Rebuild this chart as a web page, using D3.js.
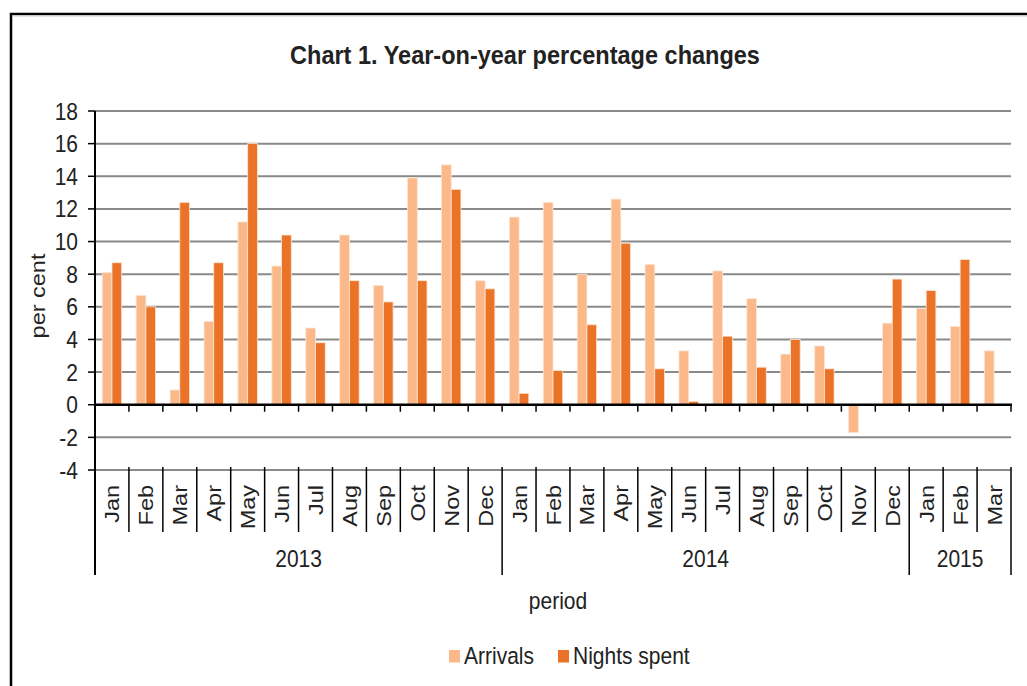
<!DOCTYPE html>
<html>
<head>
<meta charset="utf-8">
<script src="https://cdn.jsdelivr.net/npm/d3@7"></script>
<style>
  body { margin: 0; background: #fff; }
  text { font-family: "Liberation Sans", Arial, sans-serif; fill: #222; }
</style>
</head>
<body>
<script>
// chart values
const months = ["Jan","Feb","Mar","Apr","May","Jun","Jul","Aug","Sep","Oct","Nov","Dec",
                "Jan","Feb","Mar","Apr","May","Jun","Jul","Aug","Sep","Oct","Nov","Dec",
                "Jan","Feb","Mar"];
const years = [{label: "2013", n: 12}, {label: "2014", n: 12}, {label: "2015", n: 3}];
const arrivals = [8.1, 6.7, 0.9, 5.1, 11.2, 8.5, 4.7, 10.4, 7.3, 13.9, 14.7, 7.6,
                  11.5, 12.4, 8.0, 12.6, 8.6, 3.3, 8.2, 6.5, 3.1, 3.6, -1.7, 5.0,
                  5.9, 4.8, 3.3];
const nightsSpent = [8.7, 6.0, 12.4, 8.7, 16.0, 10.4, 3.8, 7.6, 6.3, 7.6, 13.2, 7.1,
                     0.7, 2.1, 4.9, 9.9, 2.2, 0.2, 4.2, 2.3, 4.0, 2.2, null, 7.7,
                     7.0, 8.9, null];
const seriesNames = ["Arrivals", "Nights spent"];
const yTicks = [-4, -2, 0, 2, 4, 6, 8, 10, 12, 14, 16, 18];

const width = 1027, height = 686;
const colors = {"Arrivals": "#fbb98a", "Nights spent": "#ea7328"};
// text in the original is a bit taller than wide
const fs = 23.5, sx = 0.894;

const rows = months.map((m, i) => ({i, m, "Arrivals": arrivals[i], "Nights spent": nightsSpent[i]}));

let svg = d3.select("body").append("svg")
    .attr("width", width)
    .attr("height", height)

// frame
svg.append("path").attr("d", `M11,${height + 5}V14H${width + 5}`)
    .attr("fill", "none").attr("stroke", "#000").attr("stroke-width", 2.5)
svg.append("line").attr("x1", 12).attr("x2", width).attr("y1", 16).attr("y2", 16)
    .attr("stroke", "#ccc").attr("stroke-width", 1)

const x = d3.scaleBand().domain(d3.range(months.length)).range([95, 1011]).padding(0)
const x1 = d3.scaleBand().domain(seriesNames)
    .range([x.bandwidth() * 0.214, x.bandwidth() * 0.786]).padding(0)
const y = d3.scaleLinear().domain([-4, 18]).range([470, 111])

function hText(g, px, py, str, anchor, size, bold) {
    return g.append("text")
        .attr("transform", `translate(${px},${py}) scale(${sx},1)`)
        .attr("text-anchor", anchor || "start")
        .attr("font-size", size || fs)
        .attr("font-weight", bold ? "bold" : null)
        .text(str)
}
function vText(g, px, py, str, anchor, size) {
    const s = size || fs * sx;
    return g.append("text")
        .attr("transform", `translate(${px},${py}) rotate(-90) scale(${fs / (fs * sx)},1)`)
        .attr("text-anchor", anchor || "middle")
        .attr("font-size", s)
        .text(str)
}

// title
hText(svg, 525, 64, "Chart 1. Year-on-year percentage changes", "middle", 26.3, true)
    .attr("fill", "#111")

// gridlines
svg.append("g").selectAll("line").data(yTicks.filter(d => d !== 0)).join("line")
    .attr("x1", 95).attr("x2", 1011)
    .attr("y1", d => y(d)).attr("y2", d => y(d))
    .attr("stroke", "#8a8a8a").attr("stroke-width", 2)

// bars
const bars = svg.append("g")
bars.selectAll("g").data(rows).join("g")
    .attr("transform", d => `translate(${x(d.i)},0)`)
    .selectAll("rect")
    .data(d => seriesNames.filter(k => d[k] != null).map(k => ({k, v: d[k]})))
    .join("rect")
    .attr("x", d => x1(d.k))
    .attr("width", x1.bandwidth())
    .attr("y", d => y(Math.max(0, d.v)))
    .attr("height", d => Math.abs(y(d.v) - y(0)))
    .attr("fill", d => colors[d.k])
    .attr("stroke", "#fde4d2").attr("stroke-width", 0.8)

// y axis
const yAxis = svg.append("g")
yAxis.append("line").attr("x1", 95).attr("x2", 95).attr("y1", y(18)).attr("y2", 575)
    .attr("stroke", "#000").attr("stroke-width", 2)
yAxis.selectAll("line.tick").data(yTicks).join("line").attr("class", "tick")
    .attr("x1", 88).attr("x2", 95).attr("y1", d => y(d)).attr("y2", d => y(d))
    .attr("stroke", "#000").attr("stroke-width", 1.5)
yTicks.forEach(t => hText(yAxis, 78, y(t) + 8.5, String(t), "end"))
vText(svg, 45, 296, "per cent", "middle")

// zero line with ticks
const bounds = d3.range(months.length + 1).map(i => i < months.length ? x(i) : x.range()[1])
svg.append("line").attr("x1", 95).attr("x2", 1012).attr("y1", y(0)).attr("y2", y(0))
    .attr("stroke", "#000").attr("stroke-width", 2.5)
svg.append("g").selectAll("line").data(bounds.slice(1)).join("line")
    .attr("x1", d => d).attr("x2", d => d).attr("y1", y(0)).attr("y2", y(0) + 7)
    .attr("stroke", "#000").attr("stroke-width", 1.5)

// category axis below the plot
const cat = svg.append("g")
cat.selectAll("line").data(bounds).join("line")
    .attr("x1", d => d).attr("x2", d => d).attr("y1", y(-4) - 3).attr("y2", 532)
    .attr("stroke", "#000").attr("stroke-width", 1.5)
months.forEach((m, i) => vText(cat, x(i) + x.bandwidth() / 2 + 7.5, 485, m, "end"))

let start = 0
years.forEach(yr => {
    const x0 = bounds[start], x2 = bounds[start + yr.n]
    cat.append("line").attr("x1", x2).attr("x2", x2).attr("y1", 532).attr("y2", 575)
        .attr("stroke", "#000").attr("stroke-width", 1.5)
    hText(cat, (x0 + x2) / 2, 567, yr.label, "middle")
    start += yr.n
})

hText(svg, 558, 609, "period", "middle")

// legend
const legend = svg.append("g")
const lx = {"Arrivals": 449, "Nights spent": 558}
seriesNames.forEach(k => {
    legend.append("rect").attr("x", lx[k]).attr("y", 650).attr("width", 11).attr("height", 12.5)
        .attr("fill", colors[k])
    hText(legend, lx[k] + 15, 664, k, "start")
})
</script>
</body>
</html>
